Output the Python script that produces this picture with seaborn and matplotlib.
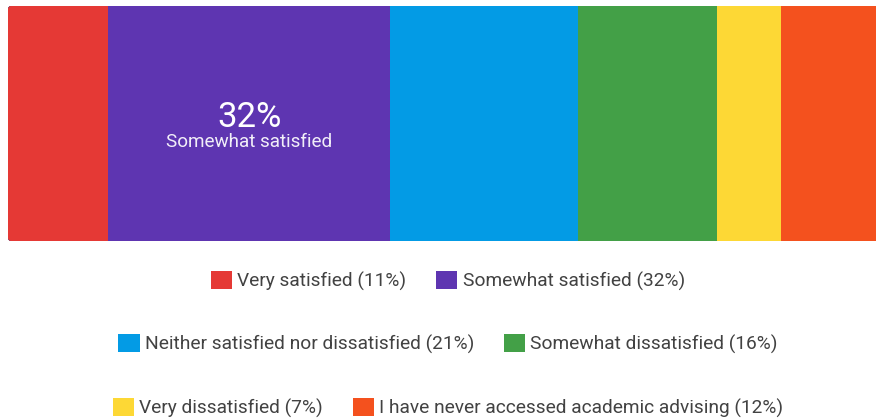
import matplotlib
matplotlib.use("Agg")
import matplotlib.pyplot as plt
from matplotlib.patches import FancyBboxPatch, Patch
from matplotlib.transforms import IdentityTransform, blended_transform_factory
import numpy as np
import seaborn as sns

# Survey responses: satisfaction with academic advising (share of respondents)
categories = [
    "Very satisfied",
    "Somewhat satisfied",
    "Neither satisfied nor dissatisfied",
    "Somewhat dissatisfied",
    "Very dissatisfied",
    "I have never accessed academic advising",
]
values = [11.3, 31.9, 21.2, 15.7, 7.2, 12.1]
colors = ["#e53935", "#5e35b1", "#039be5", "#43a047", "#fdd835", "#f4511e"]

sns.set_theme(style="white")
plt.rcParams["font.family"] = ["Roboto", "DejaVu Sans"]

W, H, DPI = 876, 420, 100
fig = plt.figure(figsize=(W / DPI, H / DPI), dpi=DPI)

total = sum(values)
pct = [v / total * 100 for v in values]
ends = np.cumsum(values)
starts = ends - np.array(values)

# Bar area in pixels (left, top, right, bottom measured from top-left)
x0_px, x1_px, top_px, bot_px = 8, 888, 6, 241
ax = fig.add_axes([x0_px / W, 1 - bot_px / H, (x1_px - x0_px) / W, (bot_px - top_px) / H])

# Stacked horizontal bar: draw cumulative totals from widest to narrowest
for end, c in list(zip(ends, colors))[::-1]:
    sns.barplot(x=[end], y=["all"], color=c, width=1.0, saturation=1,
                orient="h", ax=ax, linewidth=0)

ax.set_xlim(0, total)
ax.set_ylim(0.5, -0.5)
ax.axis("off")

# Rounded outline for the whole bar
clip = FancyBboxPatch((x0_px, H - bot_px), x1_px - x0_px, bot_px - top_px,
                      boxstyle="round,pad=0,rounding_size=3",
                      transform=IdentityTransform(), facecolor="none", edgecolor="none")
for p in ax.patches:
    p.set_clip_path(clip)

# Label on the largest segment
i = int(np.argmax(values))
trans = blended_transform_factory(ax.transData, ax.transAxes)
xc = (starts[i] + ends[i]) / 2
ax.text(xc, 0.525, f"{pct[i]:.0f}%", transform=trans, ha="center", va="center",
        color="white", fontsize=25)
ax.text(xc, 0.423, categories[i], transform=trans, ha="center", va="center",
        color="white", alpha=0.92, fontsize=13.6)

# Legend: three centred rows of two entries
cx = ((x0_px + x1_px) / 2) / W
row_y = [281, 344, 408]
for r, y in enumerate(row_y):
    handles, labels = [], []
    for k in (2 * r, 2 * r + 1):
        handles.append(Patch(facecolor=colors[k], edgecolor="none"))
        labels.append(f"{categories[k]} ({pct[k]:.0f}%)")
    fig.legend(handles, labels, ncol=2, loc="center",
               bbox_to_anchor=(cx, 1 - y / H), frameon=False,
               fontsize=13.8, labelcolor="#424242",
               handlelength=1.1, handleheight=1.1, handletextpad=0.27,
               columnspacing=1.55, borderpad=0, borderaxespad=0)

fig.savefig("out.png", dpi=DPI)
